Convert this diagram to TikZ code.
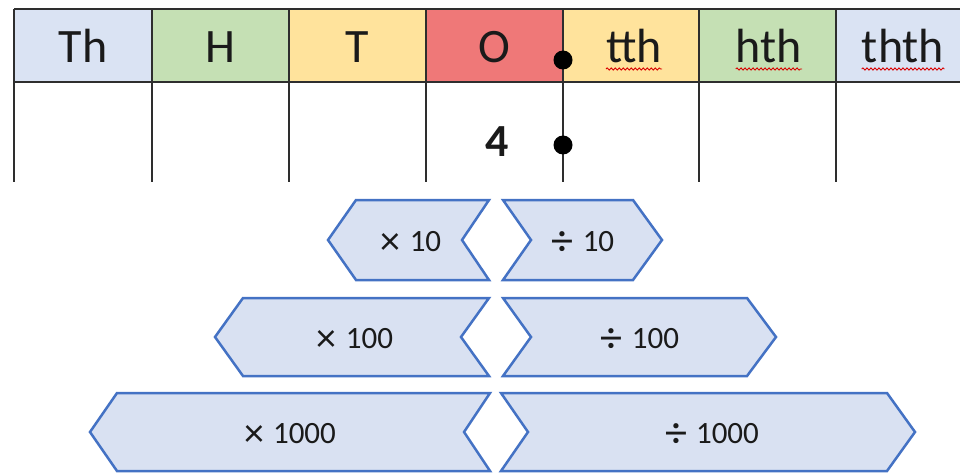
\documentclass[tikz,border=0pt]{standalone}
\usepackage{fontspec}
\setmainfont{Carlito}
\usetikzlibrary{decorations.pathmorphing}
\definecolor{cTh}{HTML}{DAE3F3}
\definecolor{cH}{HTML}{C5E0B4}
\definecolor{cT}{HTML}{FFE39C}
\definecolor{cO}{HTML}{EF7878}
\definecolor{cGrid}{HTML}{2E2E2E}
\definecolor{cEdge}{HTML}{4472C4}
\definecolor{cFill}{HTML}{D9E1F2}
\definecolor{cTxt}{HTML}{1A1A1A}
\newcommand{\bigtimes}{\raisebox{-3.5pt}{\fontsize{40}{40}\selectfont ×}\hspace{9pt}}
\newcommand{\bigdiv}{\raisebox{-4pt}{\fontsize{44}{44}\selectfont ÷}\hspace{9pt}}
\begin{document}
\begin{tikzpicture}[x=1pt,y=-1pt,
  grid/.style={draw=cGrid,line width=2pt},
  hdr/.style={anchor=base,inner sep=0pt,text=cTxt,font=\fontsize{48}{50}\selectfont},
  wavy/.style={draw=red!85!black,line width=0.9pt,decorate,decoration={snake,amplitude=1.1pt,segment length=4pt}},
  chev/.style={draw=cEdge,fill=cFill,line width=2.5pt,line join=miter},
  op/.style={anchor=base,inner sep=0pt,text=cTxt,font=\fontsize{31}{33}\selectfont},
  dot/.style={fill=black}]
\useasboundingbox (0,0) rectangle (960,473);
% header fills
\fill[cTh] (14,9) rectangle (152,82);
\fill[cH]  (152,9) rectangle (289,82);
\fill[cT]  (289,9) rectangle (426,82);
\fill[cO]  (426,9) rectangle (563,82);
\fill[cT]  (563,9) rectangle (699,82);
\fill[cH]  (699,9) rectangle (836,82);
\fill[cTh] (836,9) rectangle (960,82);
% grid
\draw[grid] (14,9) -- (960,9);
\draw[grid] (14,82) -- (960,82);
\foreach \x in {14,152,289,426,563,699,836}{\draw[grid] (\x,9) -- (\x,182);}
% header labels
\node[hdr] (th)   at (83,63)  {Th};
\node[hdr] (h)    at (220,63) {H};
\node[hdr] (t)    at (357,63) {T};
\node[hdr] (o)    at (494,63) {O};
\node[hdr] (tth)  at (634,63) {tth};
\node[hdr] (hth)  at (769,63) {hth};
\node[hdr] (thth) at (903,63) {thth};
\draw[wavy] ([yshift=-6pt]tth.base west) -- ([yshift=-6pt]tth.base east);
\draw[wavy] ([yshift=-6pt]hth.base west) -- ([yshift=-6pt]hth.base east);
\draw[wavy] ([yshift=-6pt]thth.base west) -- ([yshift=-6pt]thth.base east);
% digit and decimal point markers
\node[hdr,font=\fontsize{46}{48}\selectfont\bfseries] (four) at (497,157) {4};
\fill[dot] (563,60) circle (9.5);
\fill[dot] (563,145) circle (9.5);
% chevrons row 1
\draw[chev] (328,240) -- (356,200) -- (489,200) -- (462,240) -- (489,280) -- (356,280) -- cycle;
\draw[chev] (503,200) -- (633,200) -- (662,240) -- (633,280) -- (503,280) -- (531,240) -- cycle;
\node[op] (m10) at (411,251) {\bigtimes 10};
\node[op] (d10) at (583,251) {\bigdiv 10};
% row 2
\draw[chev] (215,337) -- (243,298) -- (489,298) -- (461,337) -- (489,376) -- (243,376) -- cycle;
\draw[chev] (503,298) -- (747,298) -- (776,337) -- (747,376) -- (503,376) -- (531,337) -- cycle;
\node[op] (m100) at (355,348) {\bigtimes 100};
\node[op] (d100) at (640,348) {\bigdiv 100};
% row 3
\draw[chev] (90,432) -- (117,393) -- (490,393) -- (464,432) -- (490,471) -- (117,471) -- cycle;
\draw[chev] (501,393) -- (887,393) -- (915,432) -- (887,471) -- (501,471) -- (528,432) -- cycle;
\node[op] (m1000) at (290,443) {\bigtimes 1000};
\node[op] (d1000) at (712,443) {\bigdiv 1000};
\end{tikzpicture}
\end{document}
